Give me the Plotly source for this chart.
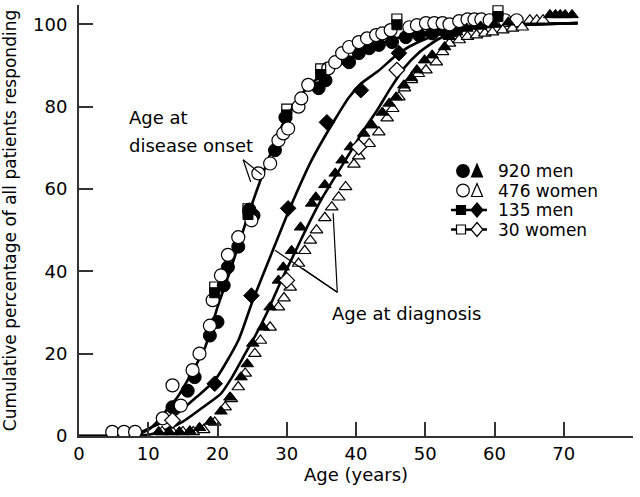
import plotly.graph_objects as go

# ---------------- data ----------------
# Age at disease onset, 920 men (filled circles)
men920_onset_x = [13.5, 15.7, 16.7, 18.9, 20.0, 20.9, 21.5, 23.0, 24.6, 25.2, 28.3, 29.8, 34.6, 35.6,
                  39.0, 40.4, 41.9, 43.3, 45.2, 47.2, 49.1, 51.0, 53.0, 54.5]
men920_onset_y = [7.0, 11.0, 14.3, 24.4, 27.7, 36.6, 41.0, 46.0, 55.0, 53.6, 69.4, 77.4, 84.5, 86.4,
                  90.8, 93.0, 94.2, 95.0, 95.7, 96.9, 97.4, 97.8, 98.1, 98.6]
# Age at disease onset, 476 women (open circles)
women476_onset_x = [4.8, 6.5, 8.1, 12.1, 13.5, 14.7, 16.4, 17.4, 18.9, 19.3, 20.5, 21.5, 23.0, 24.9,
                    25.9, 27.6, 28.8, 29.5, 30.2, 31.7, 32.1, 33.1, 36.0, 37.0, 38.0, 39.0, 40.4,
                    41.6, 42.9, 43.8, 45.0, 47.7, 48.8, 50.1, 51.3, 52.5, 53.5, 54.9, 56.1, 57.1,
                    58.1, 59.3, 61.5, 63.2]
women476_onset_y = [1.0, 1.0, 1.0, 4.3, 12.3, 7.4, 16.0, 20.0, 26.8, 33.0, 39.0, 44.0, 48.3, 52.4,
                    63.8, 66.2, 71.8, 73.5, 74.7, 80.0, 82.0, 85.3, 89.3, 90.8, 93.0, 94.5, 95.7,
                    96.6, 97.4, 97.8, 98.6, 99.3, 99.8, 100.3, 100.3, 100.3, 100.0, 100.8, 101.2, 101.2,
                    101.2, 101.0, 101.0, 101.0]
# Age at diagnosis, 920 men (filled triangles)
men920_diag_x = [11.5, 13.0, 14.5, 16.0, 17.4, 19.0, 20.5, 21.8, 23.4, 24.3, 25.1, 26.6, 27.6, 28.8,
                 29.5, 30.7, 32.0, 33.6, 34.2, 35.5, 37.0, 38.0, 39.2, 41.1, 42.3, 43.8, 44.8, 45.8,
                 46.9, 48.0, 48.8, 49.9, 51.0, 52.8, 53.5, 54.5, 56.0, 58.0, 60.0, 62.0, 68.0, 68.8,
                 69.5, 70.2, 71.2]
men920_diag_y = [1.0, 1.0, 1.0, 1.2, 2.0, 3.5, 6.0, 9.4, 14.3, 17.5, 22.5, 26.4, 31.3, 37.8,
                 41.0, 45.0, 50.7, 56.5, 58.0, 61.0, 63.8, 67.0, 70.2, 73.5, 75.5, 78.6, 80.8, 82.3,
                 85.2, 87.0, 88.9, 91.3, 92.5, 94.5, 97.0, 98.1, 99.0, 99.5, 100.0, 100.5, 102.3, 102.3,
                 102.3, 102.3, 102.3]
# Age at diagnosis, 476 women (open triangles)
women476_diag_x = [12.0, 13.5, 15.0, 16.5, 18.0, 19.6, 21.1, 22.0, 23.0, 24.0, 25.4, 26.2, 27.6, 28.8,
                   29.6, 30.5, 31.7, 32.6, 33.4, 34.3, 35.5, 36.5, 37.5, 38.5, 39.7, 40.4, 41.9, 43.3,
                   44.5, 45.3, 46.2, 47.0, 48.0, 49.0, 50.1, 51.6, 52.5, 53.5, 54.9, 56.1, 57.4, 58.6,
                   59.7, 61.2, 62.6, 64.0, 65.1, 66.1, 67.0]
women476_diag_y = [1.0, 1.0, 1.0, 1.0, 1.5, 3.3, 7.0, 9.0, 11.9, 15.2, 20.0, 23.2, 26.4, 31.3,
                   33.5, 36.1, 41.9, 45.0, 47.5, 50.0, 53.0, 55.6, 58.0, 60.5, 66.0, 68.0, 71.0, 73.8,
                   77.2, 79.5, 82.3, 84.5, 86.5, 88.0, 88.9, 90.8, 93.3, 95.4, 96.2, 97.0, 97.4, 97.8,
                   98.1, 98.6, 99.0, 99.3, 101.0, 101.0, 101.0]
# 135 men / 30 women: onset (squares), diagnosis (diamonds)
men135_onset_x = [19.6, 24.4, 30.0, 34.9, 45.9, 60.5]
men135_onset_y = [34.8, 53.8, 78.0, 87.8, 99.9, 101.9]
women30_onset_x = [19.6, 24.4, 30.0, 34.9, 45.9, 60.5]
women30_onset_y = [36.2, 55.2, 79.4, 89.2, 101.3, 103.3]
men135_diag_x = [19.6, 24.9, 30.2, 35.8, 40.7, 46.2]
men135_diag_y = [12.7, 34.1, 55.3, 76.2, 84.0, 93.0]
women30_diag_x = [13.5, 30.0, 40.4, 45.9]
women30_diag_y = [3.8, 37.8, 70.2, 88.9]
# Fitted curves
fit_onset_x = [0, 8, 10, 11.3, 12.5, 14.2, 16, 18.2, 20, 22, 24.4, 26.9, 29.2, 31.5, 33.6, 36, 38, 40,
               42.3, 45, 48, 52, 56, 60, 65, 72]
fit_onset_y = [0, 0.3, 1.5, 3.5, 6, 9.4, 14.5, 21.5, 31.3, 41, 53.5, 65.3, 75, 81.5, 85.7, 88.5, 90.5,
               92.5, 94.5, 96.2, 97.5, 98.6, 99.3, 99.7, 100, 100.3]
fit_men135_diag_x = [0, 8, 9.4, 12, 14.2, 17, 19.6, 23, 25, 27.8, 30.5, 33.6, 37, 39, 40.8, 43.3, 46.2,
                     49, 52.5, 56, 60, 65, 72]
fit_men135_diag_y = [0, 0.3, 1.3, 3.3, 5.5, 9.5, 13.5, 23.2, 32.5, 44.3, 55.5, 67, 77, 82.3, 85.7, 88.8,
                     93, 95.7, 97.8, 98.8, 99.5, 100, 100.3]
fit_women30_diag_x = [0, 10, 12.5, 15, 17.5, 20.5, 22, 24, 25.5, 27.3, 29, 31, 33, 35, 37, 39, 41, 43,
                      45, 47, 49, 52, 56, 60, 65, 72]
fit_women30_diag_y = [0, 0.3, 1.5, 3.5, 6.5, 10.3, 14, 20, 24.5, 30.5, 37, 44, 51, 57.5, 63, 68.5, 74,
                      79, 84.5, 89.5, 93, 96.5, 98.8, 99.6, 100, 100.3]

x_ticks = [0, 10, 20, 30, 40, 50, 60, 70]
y_ticks = [0, 20, 40, 60, 80, 100]
legend_labels = ["920 men", "476 women", "135 men", "30 women"]

# ---------------- geometry ----------------
W, H = 640, 497
ML, MR, MT, MB = 79, 7, 5, 61
PW, PH = W - ML - MR, H - MT - MB
FONT = "DejaVu Sans"


def px(x):
    return (x - ML) / PW


def py(y):
    return (H - MB - y) / PH


fig = go.Figure()

line_style = dict(color="black", width=2.6, shape="spline", smoothing=0.6)
for fx, fy in [(fit_onset_x, fit_onset_y), (fit_men135_diag_x, fit_men135_diag_y),
               (fit_women30_diag_x, fit_women30_diag_y)]:
    fig.add_trace(go.Scatter(x=fx, y=fy, mode="lines", line=line_style, hoverinfo="skip"))

open_m = dict(color="white", line=dict(color="black", width=1.2))
fill_m = dict(color="black", line=dict(color="black", width=1))

fig.add_trace(go.Scatter(x=men920_onset_x, y=men920_onset_y, mode="markers",
                         marker=dict(symbol="circle", size=13, **fill_m)))
fig.add_trace(go.Scatter(x=women476_onset_x, y=women476_onset_y, mode="markers",
                         marker=dict(symbol="circle", size=13, **open_m)))
fig.add_trace(go.Scatter(x=women476_diag_x, y=women476_diag_y, mode="markers",
                         marker=dict(symbol="triangle-up", size=11, **open_m)))
fig.add_trace(go.Scatter(x=men920_diag_x, y=men920_diag_y, mode="markers",
                         marker=dict(symbol="triangle-up", size=11, **fill_m)))
fig.add_trace(go.Scatter(x=men135_diag_x, y=men135_diag_y, mode="markers",
                         marker=dict(symbol="diamond", size=12, **fill_m)))
fig.add_trace(go.Scatter(x=women30_diag_x, y=women30_diag_y, mode="markers",
                         marker=dict(symbol="diamond", size=12, **open_m)))
fig.add_trace(go.Scatter(x=men135_onset_x, y=men135_onset_y, mode="markers",
                         marker=dict(symbol="square", size=10, **fill_m)))
fig.add_trace(go.Scatter(x=women30_onset_x, y=women30_onset_y, mode="markers",
                         marker=dict(symbol="square", size=10, color="rgba(255,255,255,0)",
                                     line=dict(color="black", width=1.2))))

shapes = []
annotations = []

# pointer lines (data coordinates)
pointers = [((23.7, 67.1), (26.4, 63.5)), ((23.7, 67.1), (24.8, 61.7)),
            ((37.3, 34.9), (28.3, 45.1)), ((37.3, 34.9), (32.3, 40.7)), ((37.3, 34.9), (36.7, 54.1))]
for (x0, y0), (x1, y1) in pointers:
    shapes.append(dict(type="line", xref="x", yref="y", x0=x0, y0=y0, x1=x1, y1=y1,
                       line=dict(color="black", width=1.2)))

# annotation texts
annotations.append(dict(text="Age at", xref="paper", yref="paper", x=px(127), y=py(118),
                        xanchor="left", yanchor="middle", showarrow=False,
                        font=dict(family=FONT, size=18, color="black")))
annotations.append(dict(text="disease onset", xref="paper", yref="paper", x=px(127), y=py(145),
                        xanchor="left", yanchor="middle", showarrow=False,
                        font=dict(family=FONT, size=18, color="black")))
annotations.append(dict(text="Age at diagnosis", xref="paper", yref="paper", x=px(330), y=py(313),
                        xanchor="left", yanchor="middle", showarrow=False,
                        font=dict(family=FONT, size=18, color="black")))

# custom legend (pixel positions converted to paper)
rows = [171, 190.5, 210, 229.5]


def circle(cx, cy, r, fill):
    shapes.append(dict(type="circle", xref="paper", yref="paper", x0=px(cx - r), x1=px(cx + r),
                       y0=py(cy + r), y1=py(cy - r), fillcolor=fill,
                       line=dict(color="black", width=1.2)))


def poly(pts, fill):
    path = "M " + " L ".join(f"{px(a):.5f},{py(b):.5f}" for a, b in pts) + " Z"
    shapes.append(dict(type="path", xref="paper", yref="paper", path=path, fillcolor=fill,
                       line=dict(color="black", width=1.2)))


def hline(x0, x1, y):
    shapes.append(dict(type="line", xref="paper", yref="paper", x0=px(x0), x1=px(x1), y0=py(y),
                       y1=py(y), line=dict(color="black", width=2.6)))


for i, fill in enumerate(["black", "white"]):
    cy = rows[i]
    circle(463, cy, 6.3, fill)
    poly([(477, cy - 7), (482.5, cy + 6), (471.5, cy + 6)], fill)
for i, fill in enumerate(["black", "white"]):
    cy = rows[2 + i]
    hline(451, 487, cy)
    poly([(456.5, cy - 4.5), (465.5, cy - 4.5), (465.5, cy + 4.5), (456.5, cy + 4.5)], fill)
    poly([(477, cy - 7), (483, cy), (477, cy + 7), (471, cy)], fill)

for lab, cy in zip(legend_labels, rows):
    annotations.append(dict(text=lab, xref="paper", yref="paper", x=px(496), y=py(cy),
                            xanchor="left", yanchor="middle", showarrow=False,
                            font=dict(family=FONT, size=17, color="black")))

axis_common = dict(showline=True, linecolor="#333", linewidth=2, ticks="inside", ticklen=14,
                   tickwidth=1.5, tickcolor="#333", showgrid=False, zeroline=False,
                   tickfont=dict(family=FONT, size=18, color="black"))

fig.update_layout(
    width=W, height=H, margin=dict(l=ML, r=MR, t=MT, b=MB),
    paper_bgcolor="white", plot_bgcolor="white", showlegend=False,
    shapes=shapes, annotations=annotations,
    xaxis=dict(range=[0, 80], tickvals=x_ticks, ticktext=[str(v) for v in x_ticks],
               title=dict(text="Age (years)", font=dict(family=FONT, size=18, color="black"),
                          standoff=6),
               **axis_common),
    yaxis=dict(range=[0, 104.7], tickvals=y_ticks, ticktext=[str(v) for v in y_ticks],
               title=dict(text="Cumulative percentage of all patients responding",
                          font=dict(family=FONT, size=17, color="black"), standoff=18),
               ticklabelstandoff=6, **axis_common),
)
fig.update_xaxes(automargin=False)
fig.update_yaxes(automargin=False)

# remove the browser's default 8px body margin so the figure sits at the page origin
fig.write_html("out.html",
               config={"displayModeBar": False},
               post_script="document.body.style.margin='0';"
                           "document.documentElement.style.overflow='hidden';")
